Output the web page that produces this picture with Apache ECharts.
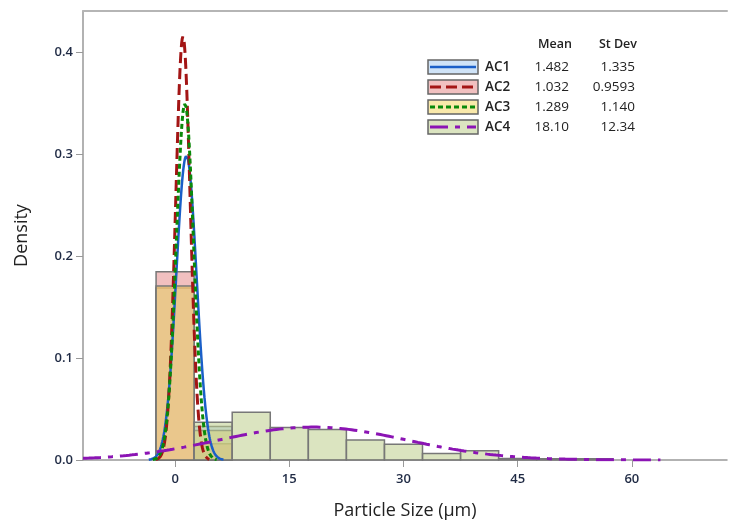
<!DOCTYPE html>
<html>
<head>
<meta charset="utf-8">
<script src="https://cdn.jsdelivr.net/npm/echarts@6/dist/echarts.min.js"></script>
<style>
  html, body { margin: 0; padding: 0; background: #fff; }
  #chart { width: 730px; height: 521px; }
</style>
</head>
<body>
<div id="chart"></div>
<script>
// histogram bins (width 5, centred on these values)
const binCenters = [0, 5, 10, 15, 20, 25, 30, 35, 40, 45, 50, 55];
const binWidth = 5;

const ac1Density = [0.169, 0.033, 0, 0, 0, 0, 0, 0, 0, 0, 0, 0];
const ac2Density = [0.185, 0.016, 0, 0, 0, 0, 0, 0, 0, 0, 0, 0];
const ac3Density = [0.171, 0.029, 0, 0, 0, 0, 0, 0, 0, 0, 0, 0];
const ac4Density = [0, 0.037, 0.0468, 0.032, 0.030, 0.0196, 0.0154, 0.0065, 0.0091, 0.0015, 0.0012, 0.0012];

const groupNames = ['AC1', 'AC2', 'AC3', 'AC4'];
const groupMeans = [1.482, 1.032, 1.289, 18.10];
const groupStdDevs = [1.335, 0.9593, 1.140, 12.34];
const meanLabels = ['1.482', '1.032', '1.289', '18.10'];
const sdLabels = ['1.335', '0.9593', '1.140', '12.34'];

const xTicks = [0, 15, 30, 45, 60];
const yTicks = [0, 0.1, 0.2, 0.3, 0.4];
const xMin = -12.1, xMax = 72.5;

const fills = ['rgba(160,200,240,0.5)', 'rgba(230,140,140,0.55)', 'rgba(245,215,100,0.55)', 'rgba(190,205,140,0.55)'];
const lineColors = ['#1a5fc8', '#a31515', '#0a8a0a', '#8b14b4'];
const dashes = ['solid', [11, 5], [5, 3], [18, 7, 5, 7]];
const lineWidths = [2.5, 3, 3, 3];

const densities = [ac1Density, ac2Density, ac3Density, ac4Density];

// fitted normal curve for each group, from its mean / st dev
function fitted(mu, sd) {
  const pts = [];
  const lo = Math.max(xMin, mu - 3.7 * sd), hi = Math.min(xMax, mu + 3.7 * sd);
  const step = (hi - lo) / 600;
  for (let x = lo; x <= hi + 1e-9; x += step) {
    const z = (x - mu) / sd;
    pts.push([x, Math.exp(-0.5 * z * z) / (sd * Math.sqrt(2 * Math.PI))]);
  }
  return pts;
}

const font = '"Open Sans", "Noto Sans", sans-serif';

const histSeries = densities.map((d, i) => ({
  type: 'custom',
  name: groupNames[i],
  z: 2,
  silent: true,
  encode: { x: [0, 1], y: 2 },
  data: binCenters.map((c, k) => [c - binWidth / 2, c + binWidth / 2, d[k]]).filter(r => r[2] > 0),
  renderItem: function (params, api) {
    const p0 = api.coord([api.value(0), 0]);
    const p1 = api.coord([api.value(1), api.value(2)]);
    return {
      type: 'rect',
      shape: { x: p0[0], y: p1[1], width: p1[0] - p0[0], height: p0[1] - p1[1] },
      style: { fill: fills[i], stroke: '#777', lineWidth: 1.5 }
    };
  }
}));

const curveSeries = groupNames.map((n, i) => ({
  type: 'line',
  name: n + ' fit',
  z: 3 + i,
  silent: true,
  showSymbol: false,
  smooth: false,
  data: fitted(groupMeans[i], groupStdDevs[i]),
  lineStyle: { color: lineColors[i], width: lineWidths[i], type: dashes[i] }
}));

// legend table
const rowY = [67, 87, 107, 127];
const legendGraphics = [
  { type: 'text', x: 572, y: 44, style: { text: 'Mean', font: '600 12.5px ' + font, fill: '#222', align: 'right', verticalAlign: 'middle' } },
  { type: 'text', x: 637, y: 44, style: { text: 'St Dev', font: '600 12.5px ' + font, fill: '#222', align: 'right', verticalAlign: 'middle' } }
];
groupNames.forEach((n, i) => {
  const y = rowY[i];
  legendGraphics.push(
    { type: 'rect', shape: { x: 428, y: y - 7, width: 50, height: 14 }, style: { fill: fills[i], stroke: '#666', lineWidth: 1.5 } },
    { type: 'line', shape: { x1: 430, y1: y, x2: 476, y2: y }, style: { stroke: lineColors[i], lineWidth: lineWidths[i], lineDash: dashes[i] === 'solid' ? null : dashes[i] } },
    { type: 'text', x: 485, y: y, style: { text: n, font: '600 13.5px ' + font, fill: '#222', verticalAlign: 'middle' } },
    { type: 'text', x: 569, y: y, style: { text: meanLabels[i], font: '13.5px ' + font, fill: '#222', align: 'right', verticalAlign: 'middle' } },
    { type: 'text', x: 635, y: y, style: { text: sdLabels[i], font: '13.5px ' + font, fill: '#222', align: 'right', verticalAlign: 'middle' } }
  );
});

const chart = echarts.init(document.getElementById('chart'));
chart.setOption({
  animation: false,
  backgroundColor: '#fff',
  grid: { left: 83, right: 3, top: 11, bottom: 61, containLabel: false, outerBoundsMode: 'none' },
  xAxis: [{
    type: 'value',
    min: xMin,
    max: xMax,
    name: 'Particle Size (µm)',
    nameLocation: 'middle',
    nameGap: 42,
    nameTextStyle: { fontFamily: font, fontSize: 18, color: '#222' },
    axisLine: { onZero: false, lineStyle: { color: '#999', width: 1.5 } },
    axisTick: { show: true, length: 7, lineStyle: { color: '#999' }, customValues: xTicks },
    axisLabel: { fontFamily: font, fontSize: 13, fontWeight: 600, color: '#1f2a44', margin: 13, customValues: xTicks },
    splitLine: { show: false }
  }, {
    type: 'value',
    position: 'top',
    min: xMin,
    max: xMax,
    axisLine: { show: true, onZero: false, lineStyle: { color: '#b5b5b5', width: 2 } },
    axisTick: { show: false },
    axisLabel: { show: false },
    splitLine: { show: false }
  }],
  yAxis: {
    type: 'value',
    min: 0,
    max: 0.441,
    name: 'Density',
    nameLocation: 'middle',
    nameGap: 52,
    nameTextStyle: { fontFamily: font, fontSize: 18, color: '#222' },
    axisLine: { show: true, onZero: false, lineStyle: { color: '#999', width: 1.5 } },
    axisTick: { show: true, length: 7, lineStyle: { color: '#999' }, customValues: yTicks },
    axisLabel: { fontFamily: font, fontSize: 13, fontWeight: 600, color: '#1f2a44', margin: 10, customValues: yTicks, formatter: v => v.toFixed(1) },
    splitLine: { show: false }
  },
  series: histSeries.concat(curveSeries),
  graphic: legendGraphics
});
</script>
</body>
</html>
